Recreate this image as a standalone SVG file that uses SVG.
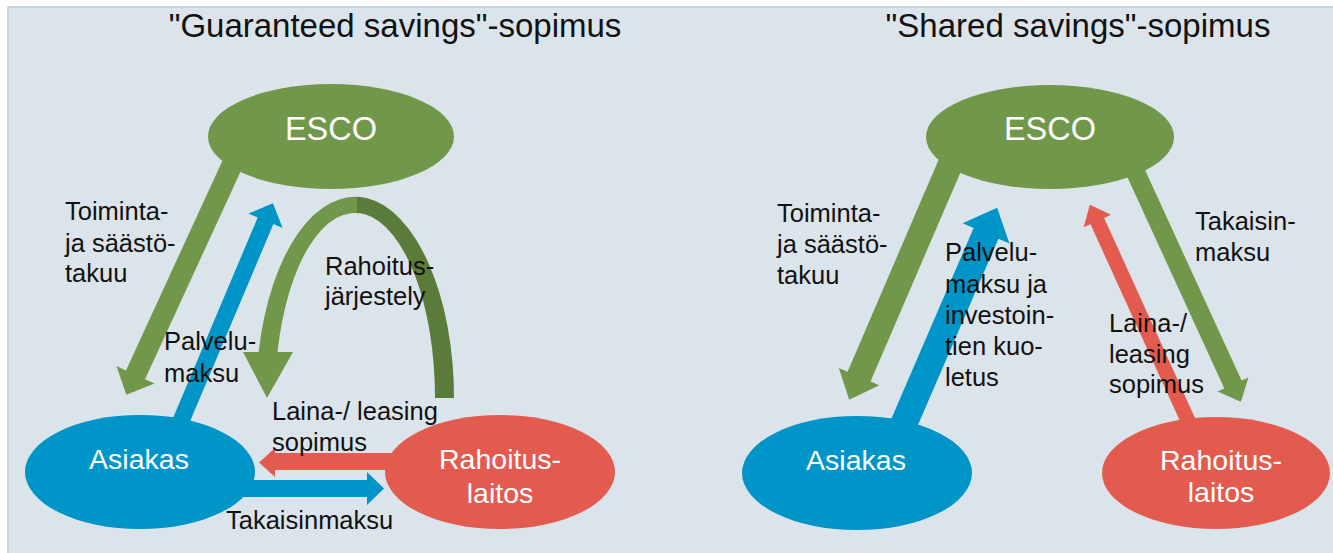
<svg xmlns="http://www.w3.org/2000/svg" width="1333" height="553" viewBox="0 0 1333 553">
<style>
.t{font-family:"Liberation Sans",Arial,sans-serif;fill:#111;font-size:25.5px}
.title{font-family:"Liberation Sans",Arial,sans-serif;fill:#111;font-size:33px;text-anchor:middle}
.n{font-family:"Liberation Sans",Arial,sans-serif;fill:#fff;font-size:28.5px;text-anchor:middle}
.esco{font-size:32.5px}
.g{fill:#71984A}
.b{fill:#0095C8}
.r{fill:#E35B4F}
</style>
<defs>
<linearGradient id="arcGrad" gradientUnits="userSpaceOnUse" x1="250" y1="0" x2="460" y2="0">
<stop offset="0" stop-color="#71984A"/>
<stop offset="0.51" stop-color="#71984A"/>
<stop offset="0.51" stop-color="#5A7B3A"/>
<stop offset="1" stop-color="#5A7B3A"/>
</linearGradient>
</defs>
<rect x="0" y="0" width="1333" height="553" fill="#ffffff"/>
<rect x="8" y="7" width="1335" height="560" fill="#DBE4EA" stroke="#B9CCD9" stroke-width="1.5"/>

<text class="title" x="395" y="37">"Guaranteed savings"-sopimus</text>
<text class="title" x="1078" y="37">"Shared savings"-sopimus</text>

<g id="connectors">
<!-- left diagram -->
<g class="g" transform="translate(235.8,156.8) rotate(114.7)"><path d="M0,-10.5 L240,-10.5 L240,-21 L262,0 L240,21 L240,10.5 L0,10.5 Z"/></g>
<g class="b" transform="translate(178,428) rotate(-67.1)"><path d="M0,-8.5 L225,-8.5 L225,-18.5 L244,0 L225,18.5 L225,8.5 L0,8.5 Z"/></g>
<path fill="url(#arcGrad)" d="M454,398 A99,201 0 0 0 258.6,352 L277.5,352 A80,185 0 0 1 435,398 Z"/>
<path class="g" d="M243,352 L293,352 L267,398 Z"/>
<path class="r" d="M410,453 L275,453 L275,448 L259,462.5 L275,477 L275,470 L410,470 Z"/>
<path class="b" d="M230,480 L367,480 L367,472 L384,488.5 L367,505 L367,497 L230,497 Z"/>
<!-- right diagram -->
<g class="g" transform="translate(953,158) rotate(113.25)"><path d="M0,-12.5 L238,-12.5 L238,-22 L263,0 L238,22 L238,12.5 L0,12.5 Z"/></g>
<g class="b" transform="translate(902,428) rotate(-66.65)"><path d="M0,-13.5 L212,-13.5 L212,-25.5 L240,0 L212,25.5 L212,13.5 L0,13.5 Z"/></g>
<g class="g" transform="translate(1130,160) rotate(65.36)"><path d="M0,-9.5 L247,-9.5 L247,-17 L266,0 L247,17 L247,9.5 L0,9.5 Z"/></g>
<g class="r" transform="translate(1190,425) rotate(-114.44)"><path d="M0,-7.5 L224,-7.5 L224,-15 L242,0 L224,15 L224,7.5 L0,7.5 Z"/></g>
</g>

<g id="esco-left"><ellipse class="g" cx="331" cy="136.5" rx="123" ry="52.5"/><text class="n esco" x="331" y="140">ESCO</text></g>
<g id="asiakas-left"><ellipse class="b" cx="140" cy="472" rx="115" ry="57"/><text class="n" x="139" y="469">Asiakas</text></g>
<g id="rahoitus-left"><ellipse class="r" cx="500" cy="472" rx="115" ry="57"/><text class="n" x="500" y="469">Rahoitus-</text><text class="n" x="500" y="503">laitos</text></g>

<g id="esco-right"><ellipse class="g" cx="1050" cy="137" rx="124" ry="52"/><text class="n esco" x="1050" y="140">ESCO</text></g>
<g id="asiakas-right"><ellipse class="b" cx="857" cy="473" rx="115" ry="57"/><text class="n" x="856" y="470">Asiakas</text></g>
<g id="rahoitus-right"><ellipse class="r" cx="1216" cy="473" rx="114" ry="56"/><text class="n" x="1221" y="470">Rahoitus-</text><text class="n" x="1221" y="502">laitos</text></g>

<g id="labels">
<text class="t" x="65" y="220">Toiminta-</text>
<text class="t" x="65" y="252">ja säästö-</text>
<text class="t" x="65" y="282">takuu</text>
<text class="t" x="164" y="350">Palvelu-</text>
<text class="t" x="164" y="382">maksu</text>
<text class="t" x="325" y="275">Rahoitus-</text>
<text class="t" x="325" y="305">järjestely</text>
<text class="t" x="272" y="420">Laina-/ leasing</text>
<text class="t" x="272" y="451">sopimus</text>
<text class="t" x="226" y="529">Takaisinmaksu</text>

<text class="t" x="777" y="222">Toiminta-</text>
<text class="t" x="777" y="253">ja säästö-</text>
<text class="t" x="777" y="284">takuu</text>
<text class="t" x="945" y="261">Palvelu-</text>
<text class="t" x="945" y="293">maksu ja</text>
<text class="t" x="945" y="324">investoin-</text>
<text class="t" x="945" y="355">tien kuo-</text>
<text class="t" x="945" y="386">letus</text>
<text class="t" x="1195" y="230">Takaisin-</text>
<text class="t" x="1195" y="261">maksu</text>
<text class="t" x="1109" y="332">Laina-/</text>
<text class="t" x="1109" y="363">leasing</text>
<text class="t" x="1109" y="393">sopimus</text>
</g>
</svg>
